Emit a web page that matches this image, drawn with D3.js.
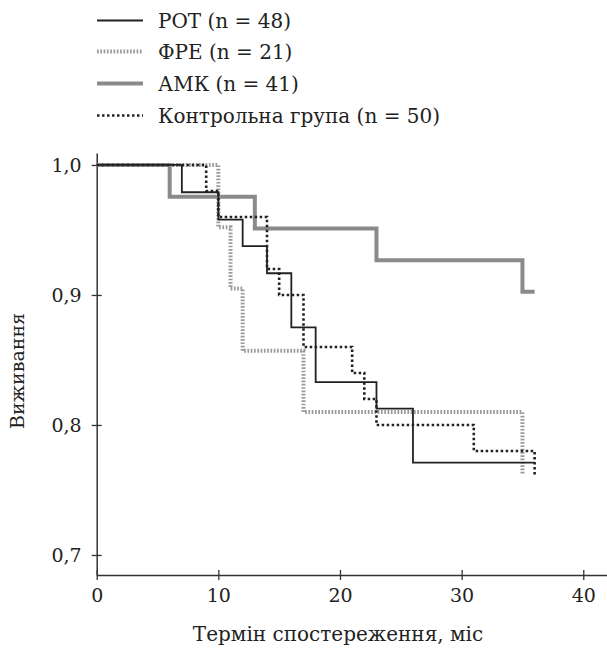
<!DOCTYPE html>
<html><head><meta charset="utf-8">
<script src="https://cdn.jsdelivr.net/npm/d3@7"></script>
<style>body{margin:0;background:#fff}svg{display:block}text{font-family:"DejaVu Serif",serif;fill:#222}</style>
</head><body>
<svg id="c" width="607" height="652"></svg>
<script>
const legendLabels = ["РОТ (n = 48)", "ФРЕ (n = 21)", "АМК (n = 41)", "Контрольна група (n = 50)"];
const rotTimes = [0, 7, 10, 12, 14, 16, 18, 23, 26, 36];
const rotSurv  = [1, 0.979, 0.958, 0.9375, 0.9167, 0.875, 0.833, 0.8125, 0.771, 0.771];
const freTimes = [0, 10, 11, 12, 17, 35];
const freSurv  = [1, 0.952, 0.905, 0.857, 0.810, 0.762];
const amkTimes = [0, 6, 13, 23, 35, 36];
const amkSurv  = [1, 0.9756, 0.9512, 0.9268, 0.9024, 0.9024];
const ctlTimes = [0, 9, 10, 14, 15, 17, 21, 22, 23, 31, 36];
const ctlSurv  = [1, 0.98, 0.96, 0.92, 0.90, 0.86, 0.84, 0.82, 0.80, 0.78, 0.76];
const xTicks = [0, 10, 20, 30, 40];
const yTicks = [0.7, 0.8, 0.9, 1.0];
const xTitle = "Термін спостереження, міс";
const yTitle = "Виживання";

const svg = d3.select("#c");
const x = d3.scaleLinear().domain([0, 42]).range([96.7, 607.6]);
const y = d3.scaleLinear().domain([0.6846, 1.0092]).range([575, 153]);

const styles = [
  {stroke:"#222", w:1.8, dash:null},
  {stroke:"#9a9a9a", w:4, dash:"1.7,1.6"},
  {stroke:"#8a8a8a", w:4, dash:null},
  {stroke:"#222", w:2.6, dash:"2.5,2.5"}
];
const series = [
  {t:rotTimes, s:rotSurv},
  {t:freTimes, s:freSurv},
  {t:amkTimes, s:amkSurv},
  {t:ctlTimes, s:ctlSurv}
];

// axes
const xAxis = d3.axisBottom(x).tickValues(xTicks).tickFormat(d3.format("d")).tickSize(0).tickPadding(14);
const gx = svg.append("g").attr("transform", `translate(0,${y.range()[0]})`).call(xAxis);
gx.select(".domain").attr("stroke", "#333").attr("stroke-width", 1.5);
gx.selectAll(".tick line").attr("y1", -5).attr("y2", 5).attr("stroke", "#333").attr("stroke-width", 1.3);
gx.selectAll(".tick text").attr("font-size", 19).attr("font-family", "DejaVu Serif").attr("fill", "#222");

const yAxis = d3.axisLeft(y).tickValues(yTicks).tickFormat(d => d3.format(".1f")(d).replace(".", ",")).tickSize(0).tickPadding(15);
const gy = svg.append("g").attr("transform", `translate(${x.range()[0]},0)`).call(yAxis);
gy.select(".domain").attr("stroke", "#333").attr("stroke-width", 1.5);
gy.selectAll(".tick line").attr("x1", -5).attr("x2", 5).attr("stroke", "#333").attr("stroke-width", 1.3);
gy.selectAll(".tick text").attr("font-size", 19).attr("font-family", "DejaVu Serif").attr("fill", "#222");

// lines
const line = d3.line().x(d => x(d[0])).y(d => y(d[1])).curve(d3.curveStepAfter);
const order = [2, 1, 0, 3];
order.forEach(i => {
  const d = series[i].t.map((t, k) => [t, series[i].s[k]]);
  svg.append("path").attr("d", line(d)).attr("fill", "none")
    .attr("stroke", styles[i].stroke).attr("stroke-width", styles[i].w)
    .attr("stroke-dasharray", styles[i].dash);
});

// legend
const legY = [20.5, 51.5, 83.5, 115.5];
legendLabels.forEach((lab, i) => {
  svg.append("line").attr("x1", 97).attr("x2", 143).attr("y1", legY[i]).attr("y2", legY[i])
    .attr("stroke", styles[i].stroke).attr("stroke-width", styles[i].w).attr("stroke-dasharray", styles[i].dash);
  svg.append("text").attr("x", 158).attr("y", legY[i]).attr("dy", "0.35em")
    .attr("font-size", 20).text(lab);
});

// titles
svg.append("text").attr("x", 338).attr("y", 634).attr("dy", "0.35em").attr("text-anchor", "middle")
  .attr("font-size", 20).text(xTitle);
svg.append("text").attr("transform", "translate(17,371) rotate(-90)").attr("dy", "0.35em").attr("text-anchor", "middle")
  .attr("font-size", 19).text(yTitle);
</script>
</body></html>
